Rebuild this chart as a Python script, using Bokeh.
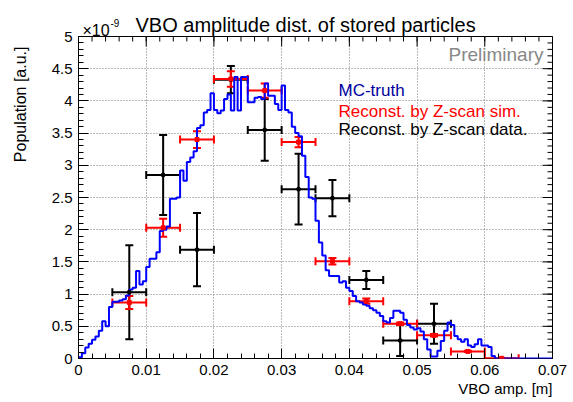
import numpy as np
from bokeh.plotting import figure
from bokeh.models import (Range1d, FixedTicker, Label, Whisker, Title,
                          ColumnDataSource, TeeHead)
from bokeh.embed import file_html
from bokeh.resources import INLINE

# ---------------- data ----------------
BIN_WIDTH = 0.0005
mc_truth = [
    0.02, 0.08, 0.17, 0.23, 0.29, 0.34, 0.43, 0.58, 0.50, 0.80,
    0.88, 0.88, 0.90, 0.92, 0.98, 1.07, 1.10, 1.36, 1.15, 1.20,
    1.42, 1.55, 1.55, 1.65, 1.98, 2.00, 2.05, 2.48, 2.48, 2.50,
    2.92, 2.76, 3.05, 3.12, 3.22, 3.58, 3.62, 3.82, 3.86, 4.12,
    3.86, 3.81, 3.85, 4.03, 4.10, 3.85, 4.37, 3.85, 4.37, 4.37,
    3.98, 3.98, 4.05, 4.06, 4.03, 4.27, 4.08, 4.08, 3.95, 3.86,
    4.24, 3.86, 3.82, 3.60, 3.50, 3.45, 3.15, 2.82, 2.50, 2.48,
    2.14, 1.80, 1.60, 1.37, 1.28, 1.28, 1.28, 1.18, 1.20, 1.10,
    1.05, 0.97, 0.89, 0.87, 0.84, 0.82, 0.78, 0.75, 0.71, 0.66,
    0.58, 0.56, 0.63, 0.74, 0.74, 0.71, 0.60, 0.52, 0.48, 0.45,
    0.47, 0.42, 0.30, 0.14, 0.03, 0.03, 0.12, 0.27, 0.43, 0.56,
    0.52, 0.35, 0.30, 0.26, 0.30, 0.20, 0.18, 0.22, 0.30, 0.20,
    0.20, 0.18, 0.04, 0.0, 0.0, 0.0, 0.0, 0.0, 0.0, 0.0,
    0.0, 0.0, 0.0, 0.0, 0.0, 0.0, 0.0, 0.0, 0.0, 0.0,
]

sim_x = [0.0075, 0.0125, 0.0175, 0.0225, 0.0275, 0.0325, 0.0375, 0.0425,
         0.0475, 0.0525, 0.0575, 0.0625]
sim_y = [0.87, 2.03, 3.40, 4.34, 4.16, 3.36, 1.51, 0.89, 0.54, 0.36, 0.11, 0.003]
sim_yerr = [0.10, 0.14, 0.13, 0.12, 0.11, 0.08, 0.05, 0.04, 0.02, 0.02, 0.01, 0.0]
sim_xerr = [0.0025] * len(sim_x)

data_x = [0.0075, 0.0125, 0.0175, 0.0225, 0.0275, 0.0325, 0.0375, 0.0425,
          0.0475, 0.0525]
data_y = [1.03, 2.85, 1.69, 4.33, 3.55, 2.63, 2.49, 1.22, 0.28, 0.54]
data_yerr = [0.73, 0.62, 0.57, 0.21, 0.48, 0.55, 0.28, 0.14, 0.24, 0.31]
data_xerr = [0.0025] * len(data_x)

x_ticks = [0, 0.01, 0.02, 0.03, 0.04, 0.05, 0.06, 0.07]
x_tick_labels = ["0", "0.01", "0.02", "0.03", "0.04", "0.05", "0.06", "0.07"]
y_ticks = [0, 0.5, 1, 1.5, 2, 2.5, 3, 3.5, 4, 4.5, 5]
y_tick_labels = ["0", "0.5", "1", "1.5", "2", "2.5", "3", "3.5", "4", "4.5", "5"]

title_text = "VBO amplitude dist. of stored particles"
x_title = "VBO amp. [m]"
y_title = "Population [a.u.]"
legend_texts = ["MC-truth", "Reconst. by Z-scan sim.", "Reconst. by Z-scan data."]

FONT = "Liberation Sans"

# ---------------- figure ----------------
W, H = 573, 402
BL, BR, BT, BB = 78, 21, 36, 44
X0, X1, Y0, Y1 = 0.0, 0.07, 0.0, 5.0
p = figure(width=W, height=H,
           x_range=Range1d(X0, X1), y_range=Range1d(Y0, Y1),
           output_backend="svg", toolbar_location=None,
           min_border_left=BL, min_border_right=BR,
           min_border_top=BT, min_border_bottom=BB)
p.background_fill_color = "white"
p.border_fill_color = "white"
p.outline_line_color = "black"
p.outline_line_width = 1

x_minor = list(np.round(np.arange(0, 0.0701, 0.002), 4))
y_minor = list(np.round(np.arange(0, 5.001, 0.1), 2))

xt = FixedTicker(ticks=x_ticks, minor_ticks=x_minor)
yt = FixedTicker(ticks=y_ticks, minor_ticks=y_minor)

for ax in (p.xaxis[0], p.yaxis[0]):
    ax.axis_line_color = None
    ax.major_tick_in = 10
    ax.major_tick_out = 0
    ax.minor_tick_in = 5
    ax.minor_tick_out = 0
    ax.major_tick_line_color = "black"
    ax.minor_tick_line_color = "black"
    ax.major_label_text_font = FONT
    ax.major_label_text_color = "black"
    ax.major_label_text_font_size = "15px"
    ax.major_label_standoff = 6

p.xaxis[0].ticker = xt
p.yaxis[0].ticker = yt
p.xaxis[0].major_label_overrides = {t: s for t, s in zip(x_ticks, x_tick_labels)}
p.yaxis[0].major_label_overrides = {t: s for t, s in zip(y_ticks, y_tick_labels)}

p.xgrid.ticker = xt
p.ygrid.ticker = yt
for g in (p.xgrid, p.ygrid):
    g.grid_line_color = "#777777"
    g.grid_line_dash = "1 2"
    g.grid_line_width = 1

# ticks on the top and right frame edges (ROOT style)
frame_w = W - BL - BR
frame_h = H - BT - BB
dy_major = 10 * (Y1 - Y0) / frame_h
dy_minor = 5 * (Y1 - Y0) / frame_h
dx_major = 10 * (X1 - X0) / frame_w
dx_minor = 5 * (X1 - X0) / frame_w
p.segment(x0=x_ticks, x1=x_ticks, y0=[Y1] * len(x_ticks),
          y1=[Y1 - dy_major] * len(x_ticks), line_color="black", line_width=1)
p.segment(x0=x_minor, x1=x_minor, y0=[Y1] * len(x_minor),
          y1=[Y1 - dy_minor] * len(x_minor), line_color="black", line_width=1)
p.segment(x0=[X1] * len(y_ticks), x1=[X1 - dx_major] * len(y_ticks),
          y0=y_ticks, y1=y_ticks, line_color="black", line_width=1)
p.segment(x0=[X1] * len(y_minor), x1=[X1 - dx_minor] * len(y_minor),
          y0=y_minor, y1=y_minor, line_color="black", line_width=1)

# ---------------- MC truth histogram ----------------
edges = np.arange(len(mc_truth) + 1) * BIN_WIDTH
step_y = list(mc_truth) + [mc_truth[-1]]
p.step(x=edges, y=step_y, mode="after", line_color="#0000ff", line_width=2)

# ---------------- error bar helper ----------------
def add_points(xs, ys, xerr, yerr, color, marker):
    src = ColumnDataSource(dict(
        x=xs, y=ys,
        xlo=[a - e for a, e in zip(xs, xerr)], xhi=[a + e for a, e in zip(xs, xerr)],
        ylo=[a - e for a, e in zip(ys, yerr)], yhi=[a + e for a, e in zip(ys, yerr)],
    ))
    hw = Whisker(base="y", lower="xlo", upper="xhi", dimension="width", source=src,
                 line_color=color, line_width=2,
                 upper_head=TeeHead(size=8, line_color=color, line_width=2),
                 lower_head=TeeHead(size=8, line_color=color, line_width=2))
    vw = Whisker(base="x", lower="ylo", upper="yhi", dimension="height", source=src,
                 line_color=color, line_width=2,
                 upper_head=TeeHead(size=8, line_color=color, line_width=2),
                 lower_head=TeeHead(size=8, line_color=color, line_width=2))
    p.add_layout(hw)
    p.add_layout(vw)
    p.scatter("x", "y", source=src, marker=marker, size=4,
              fill_color=color, line_color=color)


add_points(data_x, data_y, data_xerr, data_yerr, "black", "circle")
add_points(sim_x, sim_y, sim_xerr, sim_yerr, "#ff0000", "square")

# ---------------- texts ----------------
def make_label(x, y, text, size, color="black", align="left", baseline="alphabetic",
               angle=0.0):
    return Label(x=x, y=y, text=text, text_font=FONT, text_font_size=size,
                 text_color=color, text_align=align, text_baseline=baseline,
                 angle=angle)


# page-pixel -> data helpers (frame: left 78, right 552, top 36, bottom 358)
def px_x(px):
    return X0 + (px - BL) * (X1 - X0) / frame_w


def px_y(py):
    return Y0 + (H - BB - py) * (Y1 - Y0) / frame_h


# main title and x-axis title as panel titles
p.add_layout(Title(text=title_text, align="left", offset=57, text_font=FONT,
                   text_font_size="20px", text_font_style="normal",
                   text_color="black", standoff=2), "above")
p.add_layout(Title(text=x_title, align="right", text_font=FONT,
                   text_font_size="15px", text_font_style="normal",
                   text_color="black", standoff=0), "below")

# y-axis title (rotated) and the exponent, placed in side panels so they are not clipped
p.add_layout(make_label(px_x(20), px_y(46), y_title, "16px", align="right",
                        baseline="middle", angle=np.pi / 2), "left")
p.add_layout(make_label(px_x(82), px_y(30), "\u00d710", "16px"), "left")
p.add_layout(make_label(px_x(110), px_y(22), "-9", "10px"), "right")

p.add_layout(make_label(px_x(543), px_y(54), "Preliminary", "19px", color="#888888",
                        align="right", baseline="middle"))
p.add_layout(make_label(px_x(338), px_y(90), legend_texts[0], "17px", color="#0000a0",
                        baseline="middle"))
p.add_layout(make_label(px_x(338), px_y(111), legend_texts[1], "17px", color="#ff0000",
                        baseline="middle"))
p.add_layout(make_label(px_x(338), px_y(129), legend_texts[2], "17px", color="black",
                        baseline="middle"))

open("out.html", "w").write(file_html(p, INLINE))
